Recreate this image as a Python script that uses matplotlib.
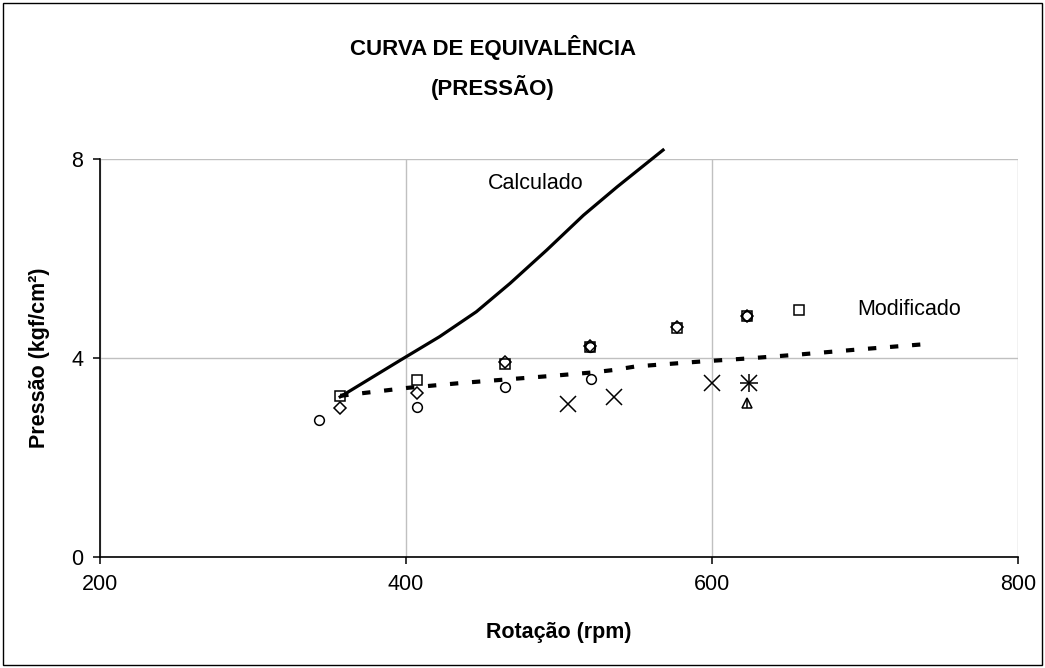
import numpy as np
import matplotlib
matplotlib.use("Agg")
import matplotlib.pyplot as plt
from matplotlib.patches import Rectangle

plt.rcParams['font.family'] = ['Liberation Sans', 'DejaVu Sans']

# curva calculada
calc_x = [357, 396, 422, 446, 468, 492, 516, 538, 568]
calc_y = [3.22, 3.95, 4.43, 4.93, 5.50, 6.17, 6.87, 7.44, 8.18]

# curva modificada
mod_x = [357, 401, 437, 466, 495, 522, 536, 550, 593, 623, 657, 695, 740]
mod_y = [3.24, 3.40, 3.50, 3.57, 3.64, 3.71, 3.76, 3.83, 3.93, 3.99, 4.07, 4.17, 4.28]

# pontos medidos
sq_x = [357, 407, 465, 520, 577, 623, 657]
sq_y = [3.24, 3.56, 3.87, 4.23, 4.60, 4.84, 4.96]
dm_x = [357, 407, 465, 520, 577, 623]
dm_y = [3.00, 3.29, 3.92, 4.25, 4.62, 4.84]
ci_x = [343, 407, 465, 521, 520, 623]
ci_y = [2.75, 3.02, 3.41, 3.58, 4.23, 4.84]
xx_x = [506, 536, 600, 624]
xx_y = [3.07, 3.21, 3.49, 3.49]
pl_x = [624]
pl_y = [3.49]
tr_x = [623]
tr_y = [3.10]

fig = plt.figure(figsize=(10.45, 6.68), dpi=100)
ax = fig.add_axes([100/1045, 1-557/668, 918/1045, 398/668])

ax.plot(calc_x, calc_y, color='black', lw=2.3, clip_on=False, zorder=3)
ax.plot(mod_x, mod_y, color='black', lw=3, dashes=(2, 3.3),
        dash_capstyle='butt', zorder=3)

mk = dict(linestyle='none', color='black', mfc='none', mew=1.1, zorder=4)
ax.plot(sq_x, sq_y, marker='s', ms=7, **mk)
ax.plot(dm_x, dm_y, marker='D', ms=6, **mk)
ax.plot(ci_x, ci_y, marker='o', ms=7, **mk)
ax.plot(xx_x, xx_y, marker='x', ms=11, **mk)
ax.plot(pl_x, pl_y, marker='+', ms=13, **mk)
ax.plot(tr_x, tr_y, marker='^', ms=7, **mk)
ax.plot(tr_x, tr_y, marker='|', ms=7, **mk)

ax.set_xlim(200, 800)
ax.set_ylim(0, 8)
ax.set_xticks([200, 400, 600, 800])
ax.set_yticks([0, 4, 8])
ax.grid(True, color='#c0c0c0', lw=1)
ax.set_axisbelow(True)
for s in ['top', 'right']:
    ax.spines[s].set_visible(False)
ax.spines['left'].set_linewidth(1.2)
ax.spines['bottom'].set_linewidth(1.2)
ax.tick_params(direction='out', length=5, width=1.1, labelsize=15.5, pad=7)

ax.set_xlabel('Rotação (rpm)', fontsize=15.5, fontweight='bold')
ax.set_ylabel('Pressão (kgf/cm²)', fontsize=15.5, fontweight='bold')
ax.xaxis.set_label_coords(0.5, -(622-557)/398)
ax.yaxis.set_label_coords((50-100)/918, 0.5)

ax.text(485, 7.51, 'Calculado', fontsize=15.5, ha='center', va='center')
ax.text(729, 4.98, 'Modificado', fontsize=15.5, ha='center', va='center')

fig.text(493/1045, 1-47/668, 'CURVA DE EQUIVALÊNCIA', fontsize=16,
         fontweight='bold', ha='center', va='center')
fig.text(493/1045, 1-87/668, '(PRESSÃO)', fontsize=16,
         fontweight='bold', ha='center', va='center')

fig.patches.append(Rectangle((3/1045, 3/668), 1039/1045, 662/668,
                             transform=fig.transFigure, fill=False,
                             edgecolor='black', lw=1))

fig.savefig('out.png', dpi=100)
